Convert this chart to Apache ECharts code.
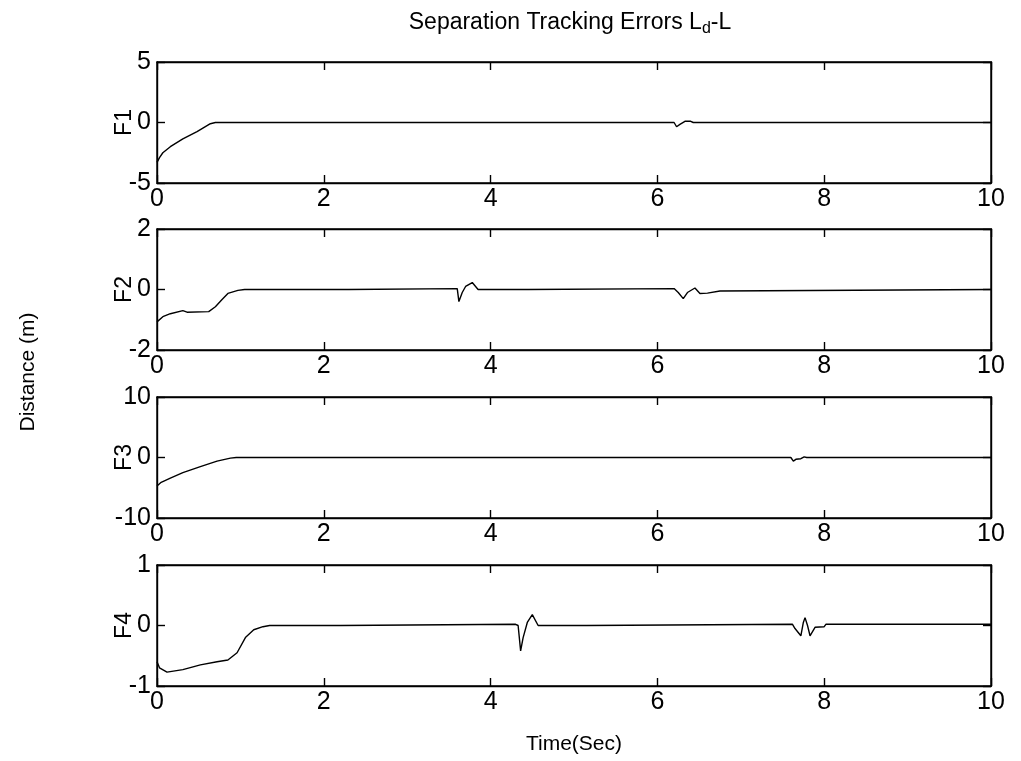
<!DOCTYPE html>
<html>
<head>
<meta charset="utf-8">
<script src="https://cdn.jsdelivr.net/npm/echarts@6/dist/echarts.min.js"></script>
<style>html,body{margin:0;padding:0;background:#fff;}#c{width:1021px;height:761px;}</style>
</head>
<body>
<div id="c"></div>
<script>
// ---- data ----
const panelNames = ['F1', 'F2', 'F3', 'F4'];
const xTicks = { min: 0, max: 10, interval: 2 };
const yRanges = [
  { min: -5, max: 5, interval: 5 },
  { min: -2, max: 2, interval: 2 },
  { min: -10, max: 10, interval: 10 },
  { min: -1, max: 1, interval: 1 }
];
const f1 = [[0,-3.3],[0.03,-2.9],[0.07,-2.5],[0.16,-2.0],[0.31,-1.35],[0.48,-0.75],[0.64,-0.1],[0.7,0],[6.2,0],[6.23,-0.35],[6.27,-0.15],[6.33,0.1],[6.4,0.1],[6.43,0],[10,0]];
const f2 = [[0,-1.07],[0.07,-0.9],[0.16,-0.8],[0.31,-0.7],[0.36,-0.75],[0.62,-0.73],[0.7,-0.57],[0.78,-0.33],[0.85,-0.13],[0.97,-0.03],[1.05,0],[2.26,0],[2.28,0.04],[2.3,0],[2.32,0.03],[3.6,0.03],[3.62,-0.4],[3.66,-0.1],[3.7,0.1],[3.78,0.23],[3.85,0],[4.45,0],[4.47,0.03],[6.2,0.03],[6.25,-0.1],[6.31,-0.3],[6.36,-0.1],[6.45,0.05],[6.51,-0.13],[6.6,-0.12],[6.75,-0.05],[6.77,0],[10,0]];
const f3 = [[0,-4.7],[0.05,-4.1],[0.16,-3.4],[0.31,-2.5],[0.52,-1.5],[0.72,-0.6],[0.88,-0.1],[0.95,0],[7.6,0],[7.63,-0.6],[7.66,-0.3],[7.72,-0.2],[7.76,0.1],[7.79,0],[10,0]];
const f4 = [[0,-0.6],[0.03,-0.7],[0.12,-0.77],[0.31,-0.73],[0.52,-0.65],[0.72,-0.6],[0.85,-0.57],[0.96,-0.45],[1.06,-0.2],[1.16,-0.07],[1.27,-0.02],[1.35,0],[2.2,0],[2.22,0.02],[4.3,0.02],[4.33,0],[4.36,-0.42],[4.39,-0.2],[4.44,0.05],[4.5,0.18],[4.57,0],[5.15,0],[5.17,0.02],[7.62,0.02],[7.65,-0.05],[7.72,-0.17],[7.75,0.05],[7.77,0.13],[7.8,0],[7.83,-0.17],[7.89,-0.03],[8.0,-0.02],[8.02,0.02],[10,0.02]];
const seriesData = [f1, f2, f3, f4];

// ---- layout ----
const FONT = '"Liberation Sans", Arial, sans-serif';
const gridTops = [62, 229, 397, 565];
const gridH = 121;
const chart = echarts.init(document.getElementById('c'));

const grids = [], xAxes = [], yAxes = [], series = [];
const lineStyleAxis = { color: '#000', width: 1.4 };
gridTops.forEach((top, i) => {
  grids.push({ left: 157, right: 30, top: top, height: gridH, show: true, borderColor: '#000', borderWidth: 1.4, backgroundColor: '#fff' });
  xAxes.push({
    type: 'value', gridIndex: i, position: 'bottom', min: xTicks.min, max: xTicks.max, interval: xTicks.interval,
    axisLine: { show: true, onZero: false, lineStyle: lineStyleAxis },
    axisTick: { show: true, inside: true, length: 8, lineStyle: lineStyleAxis },
    axisLabel: { color: '#000', fontFamily: FONT, fontSize: 25, margin: 4 },
    splitLine: { show: false },
    name: i === 3 ? 'Time(Sec)' : '', nameLocation: 'middle', nameGap: 48, nameMoveOverlap: false,
    nameTextStyle: { color: '#000', fontFamily: FONT, fontSize: 21 }
  });
  xAxes.push({
    type: 'value', gridIndex: i, position: 'top', min: xTicks.min, max: xTicks.max, interval: xTicks.interval,
    axisLine: { show: true, onZero: false, lineStyle: lineStyleAxis },
    axisTick: { show: true, inside: true, length: 8, lineStyle: lineStyleAxis },
    axisLabel: { show: false }, splitLine: { show: false }
  });
  const r = yRanges[i];
  yAxes.push({
    type: 'value', gridIndex: i, position: 'left', min: r.min, max: r.max, interval: r.interval,
    axisLine: { show: true, onZero: false, lineStyle: lineStyleAxis },
    axisTick: { show: true, inside: true, length: 8, lineStyle: lineStyleAxis },
    axisLabel: { color: '#000', fontFamily: FONT, fontSize: 25, margin: 6 },
    splitLine: { show: false },
    name: panelNames[i], nameLocation: 'middle', nameRotate: 90, nameGap: 21, nameMoveOverlap: false,
    nameTextStyle: { color: '#000', fontFamily: FONT, fontSize: 23 }
  });
  yAxes.push({
    type: 'value', gridIndex: i, position: 'right', min: r.min, max: r.max, interval: r.interval,
    axisLine: { show: true, onZero: false, lineStyle: lineStyleAxis },
    axisTick: { show: true, inside: true, length: 8, lineStyle: lineStyleAxis },
    axisLabel: { show: false }, splitLine: { show: false }
  });
  series.push({
    type: 'line', xAxisIndex: i * 2, yAxisIndex: i * 2, data: seriesData[i],
    showSymbol: false, symbol: 'none', animation: false,
    lineStyle: { color: '#000', width: 1.4 }, z: 3
  });
});

chart.setOption({
  animation: false,
  backgroundColor: '#fff',
  title: {
    text: 'Separation Tracking Errors L{s|d}-L',
    left: 565, top: 3, textAlign: 'center',
    textStyle: {
      color: '#000', fontFamily: FONT, fontSize: 23, fontWeight: 'normal',
      rich: { s: { color: '#000', fontFamily: FONT, fontSize: 16, padding: [13, 0, 0, 0] } }
    }
  },
  graphic: [{
    type: 'text', x: 28, y: 372, rotation: Math.PI / 2,
    style: { text: 'Distance (m)', fill: '#000', font: '21px "Liberation Sans", Arial, sans-serif', align: 'center', verticalAlign: 'middle' }
  }],
  grid: grids, xAxis: xAxes, yAxis: yAxes, series: series
});
</script>
</body>
</html>
